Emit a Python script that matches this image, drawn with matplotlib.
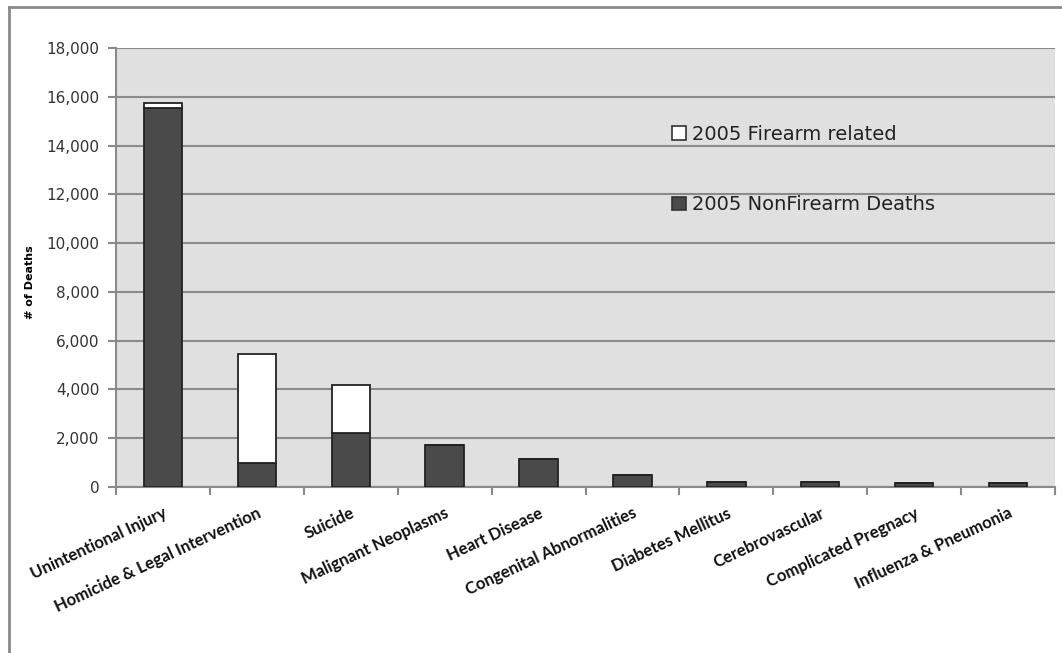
import numpy as np
import matplotlib.pyplot as plt
from matplotlib.lines import Line2D
from matplotlib.patches import Patch
from matplotlib.ticker import FuncFormatter

# data
causes = ['Unintentional Injury', 'Homicide & Legal Intervention', 'Suicide',
          'Malignant Neoplasms', 'Heart Disease', 'Congenital Abnormalities',
          'Diabetes Mellitus', 'Cerebrovascular', 'Complicated Pregnacy',
          'Influenza & Pneumonia']
nonfirearm = [15560, 965, 2230, 1720, 1130, 510, 195, 195, 180, 180]
firearm = [190, 4500, 1965, 0, 0, 0, 0, 0, 0, 0]
yticks = [0, 2000, 4000, 6000, 8000, 10000, 12000, 14000, 16000, 18000]

grid_col = '#8a8a8a'
dark = '#4a4a4a'

fig = plt.figure(figsize=(10.62, 6.53), dpi=100)
ax = fig.add_axes([116/1062, 1-487/653, 939/1062, 439/653])
ax.set_facecolor('#e0e0e0')

x = np.arange(len(causes))
ax.bar(x, nonfirearm, width=0.41, color=dark, edgecolor='#222222', linewidth=1.3, zorder=3)
ax.bar(x, firearm, width=0.41, bottom=nonfirearm, color='white', edgecolor='#222222',
       linewidth=1.3, zorder=3)

ax.set_ylim(0, 18000)
ax.set_xlim(-0.5, len(causes) - 0.5)
ax.set_yticks(yticks)
ax.yaxis.set_major_formatter(FuncFormatter(lambda v, p: f'{int(v):,}'))
ax.tick_params(axis='y', direction='out', length=6, width=1.5, color=grid_col,
               pad=6, labelsize=11, labelcolor='#333333')
ax.yaxis.grid(True, color=grid_col, linewidth=1.5, zorder=1)
ax.set_axisbelow(True)

ax.set_xticks(x)
ax.set_xticklabels(causes, rotation=25, ha='right', rotation_mode='anchor',
                   fontfamily='Lato', fontweight='bold', fontsize=12, color='#111111')
ax.set_xticks(np.arange(-0.5, len(causes)), minor=True)
ax.tick_params(axis='x', which='major', length=0, pad=13)
ax.tick_params(axis='x', which='minor', direction='out', length=6, width=1.5, color=grid_col)

for s in ['top', 'right']:
    ax.spines[s].set_visible(False)
for s in ['left', 'bottom']:
    ax.spines[s].set_color(grid_col)
    ax.spines[s].set_linewidth(1.5)

ax.set_ylabel('# of Deaths', fontsize=8, fontweight='bold')
ax.yaxis.set_label_coords(-0.086, 0.467)

handles = [Patch(facecolor='white', edgecolor='#333333', linewidth=1.2),
           Patch(facecolor=dark, edgecolor='#333333', linewidth=1.2)]
leg = ax.legend(handles, ['2005 Firearm related', '2005 NonFirearm Deaths'],
                loc='upper left', bbox_to_anchor=(0.592, 0.825), frameon=False,
                fontsize=14, handlelength=0.72, handleheight=0.72, handletextpad=0.3,
                labelspacing=2.65, borderpad=0, borderaxespad=0)
for t in leg.get_texts():
    t.set_color('#222222')

# outer chart border (right and bottom edges are cut off in the picture)
fig.add_artist(Line2D([9/1062, 1], [1-7/653, 1-7/653], color='#8a8a8a', linewidth=2))
fig.add_artist(Line2D([9/1062, 9/1062], [0, 1-7/653], color='#8a8a8a', linewidth=2))

fig.savefig('out.png', dpi=100)
